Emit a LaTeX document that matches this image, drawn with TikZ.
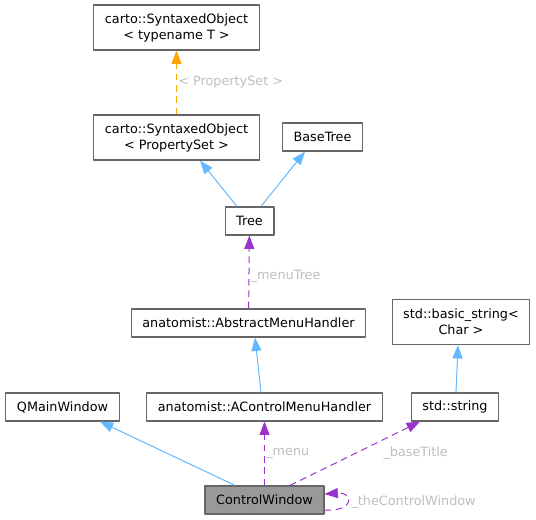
\documentclass[tikz,border=0pt]{standalone}
\usepackage{fontspec}
\setmainfont{DejaVu Sans}
\usepackage{tikz}
\usetikzlibrary{arrows.meta,calc}
\definecolor{dxedge}{RGB}{102,102,102}
\definecolor{dxinh}{RGB}{99,184,255}
\definecolor{dxuse}{RGB}{154,50,205}
\definecolor{dxtpl}{RGB}{255,165,0}
\definecolor{dxlbl}{RGB}{190,190,190}
\definecolor{dxcur}{RGB}{153,153,153}
\tikzset{
  dxbox/.style={
    draw=dxedge, line width=0.9pt, fill=white, align=center,
    inner xsep=8.3pt, inner ysep=4.4pt, minimum height=21pt
  },
  dxbox2/.style={dxbox, minimum height=33.75pt},
  cur/.style={dxbox, fill=dxcur},
  inh/.style={-{Triangle[length=10pt,width=7.5pt]}, draw=dxinh, line width=0.75pt},
  use/.style={-{Triangle[length=10pt,width=7.5pt]}, draw=dxuse, line width=0.75pt,
    dash pattern=on 5pt off 3.5pt},
  tpl/.style={use, draw=dxtpl},
  lbl/.style={text=dxlbl, inner sep=1pt},
  every picture/.append style={font=\fontsize{9.6pt}{12pt}\selectfont, line join=round}
}
\begin{document}
\begin{tikzpicture}[x=0.75pt,y=-0.75pt]
  \useasboundingbox (0,0) rectangle (536,519);
  \node[dxbox2] (sot) at (176.5,27.5) {carto::SyntaxedObject\\< typename T >};
  \node[dxbox2] (sops) at (176.5,137.5) {carto::SyntaxedObject\\< PropertySet >};
  \node[dxbox] (bt) at (322.5,137) {BaseTree};
  \node[dxbox] (tree) at (249.5,221) {Tree};
  \node[dxbox] (amh) at (248.5,323) {anatomist::AbstractMenuHandler};
  \node[dxbox2] (bs) at (461,322) {std::basic\_string<\\Char >};
  \node[dxbox] (qmw) at (62.5,407) {QMainWindow};
  \node[dxbox] (acmh) at (264.5,407) {anatomist::AControlMenuHandler};
  \node[dxbox] (str) at (455,407) {std::string};
  \node[cur] (cw) at (264.5,500) {ControlWindow};
  % template instance
  \draw[tpl] (sops) -- node[lbl, right] {< PropertySet >} (sot);
  % inheritance
  \draw[inh] ($(tree.north)+(-12.5,0)$) -- ($(sops.south)+(23.5,0)$);
  \draw[inh] ($(tree.north)+(11.5,0)$) -- ($(bt.south)+(-17.5,0)$);
  \draw[inh] ($(acmh.north)+(-3.5,0)$) -- ($(amh.south)+(6.5,0)$);
  \draw[inh] ($(str.north)+(1,0)$) -- ($(bs.south)+(-3,0)$);
  \draw[inh] ($(cw.north)+(-29.5,0)$) -- ($(qmw.south)+(37.5,0)$);
  % members
  \draw[use] (amh) -- node[lbl, right, yshift=-3pt] {\_menuTree} (tree);
  \draw[use] (cw) -- node[lbl, right] {\_menu} (acmh);
  \draw[use] ($(cw.north)+(25.5,0)$) -- node[lbl, anchor=west, xshift=20pt] {\_baseTitle} ($(str.south)+(-35,0)$);
  \draw[use] ($(cw.east)+(0,10)$) .. controls +(30,2) and +(30,-2) .. node[lbl, anchor=west, xshift=2pt] {\_theControlWindow} ($(cw.east)+(0,-6)$);
\end{tikzpicture}
\end{document}
